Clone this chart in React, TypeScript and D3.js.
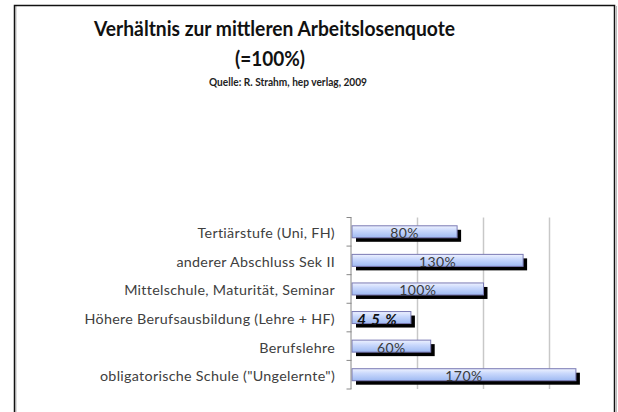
import React from "react";
import * as d3 from "d3";

const categories = [
  "Tertiärstufe (Uni, FH)",
  "anderer Abschluss Sek II",
  "Mittelschule, Maturität, Seminar",
  "Höhere Berufsausbildung (Lehre + HF)",
  "Berufslehre",
  'obligatorische Schule ("Ungelernte")',
];
const values = [80, 130, 100, 45, 60, 170];
const valueLabels = ["80%", "130%", "100%", "4 5 %", "60%", "170%"];
const gridTicks = [50, 100, 150];
const titleLines = ["Verhältnis zur mittleren Arbeitslosenquote", "(=100%)"];
const subtitle = "Quelle: R. Strahm, hep verlag, 2009";

const W = 618;
const H = 412;
const plot = { left: 351.5, right: 615.5, top: 217.5, bottom: 389 };

export default function App() {
  const x = d3.scaleLinear().domain([0, 200]).range([plot.left, plot.right]);
  const y = d3
    .scaleBand<string>()
    .domain(categories)
    .range([plot.top, plot.bottom])
    .paddingInner(0)
    .paddingOuter(0);
  const bw = y.bandwidth();
  const barH = 12;
  const font = "Lato, 'Open Sans', sans-serif";

  return (
    <div style={{ position: "absolute", left: 0, top: 0 }}>
      <svg width={W} height={H} style={{ display: "block", background: "#fff" }}>
        <defs>
          <linearGradient id="barGrad" x1="0" y1="0" x2="0" y2="1">
            <stop offset="0%" stopColor="#eef2ff" />
            <stop offset="40%" stopColor="#c9d8fc" />
            <stop offset="100%" stopColor="#9fbaf2" />
          </linearGradient>
        </defs>
        {/* frame */}
        <line x1={16} x2={16} y1={6} y2={H} stroke="#bbb" strokeWidth={1} />
        <line x1={616.5} x2={616.5} y1={6} y2={H} stroke="#bbb" strokeWidth={1} />
        <rect x={14.5} y={5.5} width={600} height={H + 10} fill="none" stroke="#111" strokeWidth={1.5} />

        {/* titles */}
        <text x={94} y={36} textLength={361} lengthAdjust="spacingAndGlyphs" fontFamily={font} fontWeight={700} fontSize={20.5} fill="#111">
          {titleLines[0]}
        </text>
        <text x={235} y={66} textLength={70} lengthAdjust="spacingAndGlyphs" fontFamily={font} fontWeight={700} fontSize={21.5} fill="#111">
          {titleLines[1]}
        </text>
        <text x={209} y={86} textLength={158} lengthAdjust="spacingAndGlyphs" fontFamily={font} fontWeight={700} fontSize={10.5} fill="#222">
          {subtitle}
        </text>

        {/* gridlines */}
        {gridTicks.map((t) => (
          <line key={t} x1={x(t)} x2={x(t)} y1={plot.top} y2={plot.bottom} stroke="#c8c8c8" strokeWidth={1.5} />
        ))}

        {/* bars */}
        {categories.map((c, i) => {
          const cy = (y(c) as number) + bw / 2;
          const x0 = x(0) + 0.5;
          const x1 = x(values[i]);
          const special = i === 3;
          return (
            <g key={c}>
              <rect x={x0 + 4} y={cy - barH / 2 + 4} width={x1 - x0} height={barH} fill="#000" />
              <rect
                x={x0}
                y={cy - barH / 2}
                width={x1 - x0}
                height={barH}
                fill="url(#barGrad)"
                stroke="#7a7ab4"
                strokeWidth={1}
              />
              <text
                x={special ? (x0 + x1) / 2 - 4 : (x0 + x1) / 2}
                y={cy + 1}
                textAnchor="middle"
                dominantBaseline="central"
                fontFamily={font}
                fontSize={special ? 15 : 14}
                fontWeight={special ? 700 : 400}
                fontStyle={special ? "italic" : "normal"}
                letterSpacing={special ? 1 : 0.4}
                fill={special ? "#111" : "#3a3a3a"}
              >
                {valueLabels[i]}
              </text>
            </g>
          );
        })}

        {/* axis */}
        <line x1={plot.left - 0.5} x2={plot.left - 0.5} y1={plot.top} y2={plot.bottom} stroke="#888" strokeWidth={1} />
        {d3.range(categories.length + 1).map((k) => {
          const yy = plot.top + k * bw;
          return <line key={k} x1={plot.left - 5} x2={plot.left} y1={yy} y2={yy} stroke="#888" strokeWidth={1} />;
        })}
        {categories.map((c) => (
          <text
            key={c}
            x={335}
            y={(y(c) as number) + bw / 2 + 1}
            textAnchor="end"
            dominantBaseline="central"
            fontFamily={font}
            fontSize={14.3}
            letterSpacing={0.3}
            fill="#404040"
          >
            {c}
          </text>
        ))}
      </svg>
    </div>
  );
}
